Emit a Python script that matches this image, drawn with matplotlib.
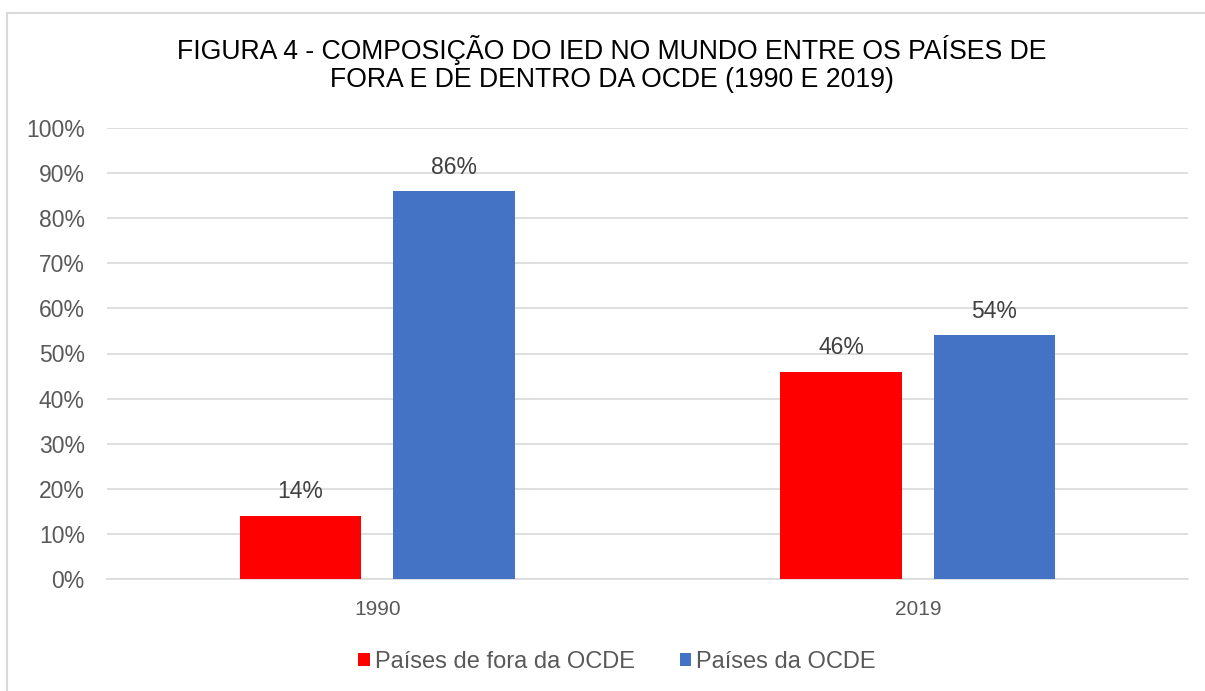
#!/usr/bin/env python3
"""FDI composition chart: OECD vs non-OECD countries, 1990 and 2019."""
import matplotlib

matplotlib.use("Agg")
import matplotlib.pyplot as plt
import numpy as np
from matplotlib.patches import Rectangle

YEARS = ["1990", "2019"]
FORA = [0.14, 0.46]
DENTRO = [0.86, 0.54]
SERIES = ["Países de fora da OCDE", "Países da OCDE"]
TITLE = "FIGURA 4 - COMPOSIÇÃO DO IED NO MUNDO ENTRE OS PAÍSES DE\nFORA E DE DENTRO DA OCDE (1990 E 2019)"

RED, BLUE, GRID, TXT = "#ff0000", "#4472c4", "#d9d9d9", "#595959"
SANS = ["Liberation Sans", "DejaVu Sans"]

fig = plt.figure(figsize=(12.05, 6.91), dpi=100)
fig.patches.append(
    Rectangle((7 / 1205, -0.1), 1.2, 1 - 13 / 691 + 0.1, transform=fig.transFigure,
              facecolor="none", edgecolor=GRID, lw=1.5)
)
ax = fig.add_axes([107 / 1205, 1 - 579 / 691, 1081 / 1205, 451 / 691])

x = np.arange(len(YEARS))
w, off = 0.224, 0.142
b1 = ax.bar(x - off, FORA, w, color=RED, label=SERIES[0], zorder=3)
b2 = ax.bar(x + off, DENTRO, w, color=BLUE, label=SERIES[1], zorder=3)
for bars in (b1, b2):
    for r in bars:
        ax.annotate(f"{r.get_height() * 100:.0f}%", (r.get_x() + r.get_width() / 2, r.get_height()),
                    xytext=(0, 9), textcoords="offset points", ha="center", va="bottom",
                    fontsize=16.5, color="#404040", family=SANS)

ax.set_xlim(-0.5, 1.5)
ax.set_ylim(0, 1)
ax.set_yticks(np.arange(0, 1.01, 0.1))
ax.set_yticklabels([f"{v}%" for v in range(0, 101, 10)], fontsize=16.5, color=TXT, family=SANS)
ax.set_xticks(x)
ax.set_xticklabels(YEARS, fontsize=15, color=TXT, family=SANS)
ax.tick_params(axis="x", length=0, pad=15)
ax.tick_params(axis="y", length=0, pad=16)
ax.grid(axis="y", color=GRID, lw=1.2, zorder=0)
for s in ("top", "right", "left"):
    ax.spines[s].set_visible(False)
ax.spines["bottom"].set_color(GRID)
ax.spines["bottom"].set_linewidth(1.2)

fig.text(612 / 1205, 1 - 64 / 691, TITLE, ha="center", va="center", fontsize=19.2,
         color="black", family=SANS, linespacing=1.12)

leg = fig.legend(handles=[b1, b2], loc="center", bbox_to_anchor=(617 / 1205, 1 - 662 / 691), ncol=2,
                 frameon=False, handlelength=0.5, handleheight=0.5, handletextpad=0.2, columnspacing=1.9,
                 prop={"family": SANS, "size": 17})
for t in leg.get_texts():
    t.set_color(TXT)

fig.savefig("out.png", dpi=100, facecolor="white")
